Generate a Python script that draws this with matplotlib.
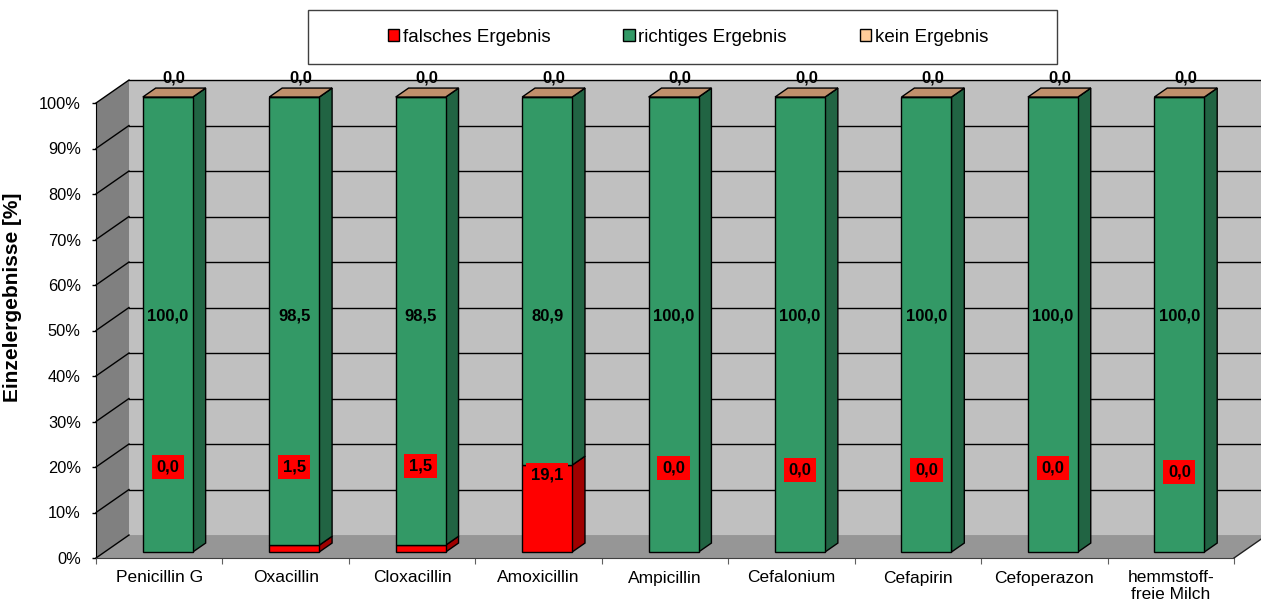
import matplotlib
matplotlib.use('Agg')
import matplotlib.pyplot as plt
from matplotlib.patches import Polygon, Rectangle, Patch
from matplotlib.ticker import FixedLocator, FuncFormatter

plt.rcParams['font.family'] = ['Liberation Sans', 'DejaVu Sans']

kategorien = ['Penicillin G', 'Oxacillin', 'Cloxacillin', 'Amoxicillin', 'Ampicillin',
              'Cefalonium', 'Cefapirin', 'Cefoperazon', 'hemmstoff-\nfreie Milch']
falsch = [0.0, 1.5, 1.5, 19.1, 0.0, 0.0, 0.0, 0.0, 0.0]
richtig = [100.0, 98.5, 98.5, 80.9, 100.0, 100.0, 100.0, 100.0, 100.0]
kein = [0.0, 0.0, 0.0, 0.0, 0.0, 0.0, 0.0, 0.0, 0.0]
serien = ['falsches Ergebnis', 'richtiges Ergebnis', 'kein Ergebnis']

# Hoehe der roten Beschriftungen (in %)
pos_falsch = [20.0, 20.0, 20.2, 18.2, 19.8, 19.3, 19.3, 19.8, 18.9]

# Farben: Vorderseite, Seitenflaeche
rot, rot_s = '#FF0000', '#A00000'
gruen, gruen_s = '#339966', '#216443'
beige, beige_top = '#FFCC99', '#C0906C'

# Pseudo-3D: Tiefe in Datenkoordinaten
DX, DY = 0.261, 5.05
d0, d1 = 0.26, 0.65
breite = 0.395
n = len(kategorien)

fig = plt.figure(figsize=(12.61, 6.08), dpi=100)
ax = fig.add_axes([96 / 1261, 50 / 608, 1138 / 1261, 455 / 608])
ax.set_xlim(0, n)
ax.set_ylim(0, 100)
ax.patch.set_visible(False)

# Waende und Boden
ax.add_patch(Polygon([(DX, DY), (n + DX + 1, DY), (n + DX + 1, 100 + DY), (DX, 100 + DY)],
                     closed=True, fc='#C0C0C0', ec='none', zorder=0, clip_on=False))
ax.add_patch(Polygon([(0, 0), (DX, DY), (DX, 100 + DY), (0, 100)],
                     closed=True, fc='#808080', ec='none', zorder=0, clip_on=False))
ax.add_patch(Polygon([(0, 0), (n, 0), (n + DX, DY), (DX, DY)],
                     closed=True, fc='#969696', ec='none', zorder=0, clip_on=False))
ax.plot([n, n + DX], [0, DY], color='#202020', lw=1, zorder=1, clip_on=False)

for y in range(0, 101, 10):
    ax.plot([0, DX], [y, y + DY], color='black', lw=1, zorder=1, clip_on=False)
    if y > 0:
        ax.plot([DX, n + DX + 1], [y + DY, y + DY], color='black', lw=1, zorder=1, clip_on=False)


def quader(x0, y0, y1, front, seite, oben=None):
    xa = x0 + d0 * DX
    xb = xa + breite
    ya, yb = y0 + d0 * DY, y1 + d0 * DY
    tx, ty = (d1 - d0) * DX, (d1 - d0) * DY
    kw = dict(closed=True, ec='black', lw=1, zorder=3, clip_on=False)
    ax.add_patch(Polygon([(xb, ya), (xb + tx, ya + ty), (xb + tx, yb + ty), (xb, yb)], fc=seite, **kw))
    ax.add_patch(Polygon([(xa, ya), (xb, ya), (xb, yb), (xa, yb)], fc=front, **kw))
    if oben is not None:
        ax.add_patch(Polygon([(xa, yb), (xb, yb), (xb + tx, yb + ty), (xa + tx, yb + ty)], fc=oben, **kw))


def fmt(v):
    return f'{v:.1f}'.replace('.', ',')


for i in range(n):
    x0 = i + 0.5 - breite / 2
    if falsch[i] > 0:
        quader(x0, 0, falsch[i], rot, rot_s)
    quader(x0, falsch[i], falsch[i] + richtig[i], gruen, gruen_s)
    oben = falsch[i] + richtig[i] + kein[i]
    quader(x0, oben, oben, beige, beige, oben=beige_top)

    xc = i + 0.5 + d0 * DX
    ax.text(xc, 53.1, fmt(richtig[i]), ha='center', va='center', fontsize=12,
            fontweight='bold', zorder=5)
    ax.text(xc, pos_falsch[i], fmt(falsch[i]), ha='center', va='center', fontsize=12,
            fontweight='bold', zorder=5,
            bbox=dict(boxstyle='square,pad=0.28', fc=rot, ec='none'))
    ax.text(i + 0.5 + (d0 + d1) / 2 * DX, 105.6, fmt(kein[i]), ha='center', va='center',
            fontsize=12, fontweight='bold', zorder=5, clip_on=False)

# Achsen
for s in ['top', 'right']:
    ax.spines[s].set_visible(False)
ax.spines['left'].set_color('black')
ax.spines['bottom'].set_color('#404040')
ax.spines['left'].set_zorder(2)
ax.spines['bottom'].set_zorder(2)

ax.yaxis.set_major_locator(FixedLocator(range(0, 101, 10)))
ax.yaxis.set_major_formatter(FuncFormatter(lambda v, p: f'{v:.0f}%'))
ax.tick_params(axis='y', direction='out', length=3, width=1, pad=8, labelsize=11.8)

ax.set_xticks(range(n + 1))
ax.set_xticklabels([])
ax.set_xticks([i + 0.5 for i in range(n)], minor=True)
ax.set_xticklabels(kategorien, minor=True, fontsize=12.5, linespacing=1.1)
ax.tick_params(axis='x', which='major', direction='out', length=4, color='#606060')
ax.tick_params(axis='x', which='minor', length=0, pad=9)
for lab in ax.get_xticklabels(minor=True):
    lab.set_va('top')

ax.set_ylabel('Einzelergebnisse [%]', fontsize=15, fontweight='bold')
ax.yaxis.set_label_coords(-0.065, 0.574)

# Legende mit Rahmen
fig.add_artist(Rectangle((308 / 1261, (608 - 64) / 608), 749 / 1261, 54 / 608,
                         transform=fig.transFigure, fc='white', ec='#404040', lw=1))
handles = [Patch(fc=rot, ec='black', lw=1),
           Patch(fc=gruen, ec='black', lw=1),
           Patch(fc=beige, ec='black', lw=1)]
fig.legend(handles, serien, loc='center', bbox_to_anchor=(0.5456, (608 - 37) / 608),
           ncol=3, frameon=False, handlelength=0.6, handleheight=0.6, handletextpad=0.2,
           columnspacing=3.9, prop={'size': 13.5})

fig.savefig('out.png', dpi=100)
